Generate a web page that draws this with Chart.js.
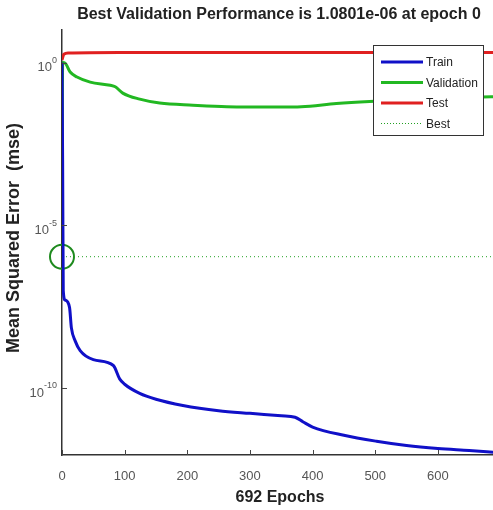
<!DOCTYPE html>
<html>
<head>
<meta charset="utf-8">
<script src="https://cdn.jsdelivr.net/npm/chart.js@4"></script>
<style>
  html, body { margin: 0; padding: 0; background: #fff; }
  #wrap { width: 493px; height: 510px; }
</style>
</head>
<body>
<div id="wrap"><canvas id="perfChart" width="493" height="510"></canvas></div>
<script>
// values (log scale, mse)
const trainEpochs = [0, 1, 2, 5, 12, 15, 21, 29, 50, 82, 92, 100, 124, 150, 193, 250, 300, 350, 372, 385, 400, 450, 502, 550, 600, 650, 692];
const trainMse = [1, 1e-3, 1e-7, 5e-8, 3e-8, 7e-9, 2.8e-9, 1.4e-9, 7.4e-10, 4.9e-10, 1.9e-10, 1.3e-10, 6.8e-11, 4.5e-11, 2.9e-11, 2e-11, 1.66e-11, 1.4e-11, 1.26e-11, 9e-12, 6.3e-12, 3.5e-12, 2.3e-12, 1.7e-12, 1.38e-12, 1.2e-12, 1.05e-12];

const valEpochs = [0, 1, 5, 13, 24, 45, 77, 85, 97, 124, 156, 209, 263, 347, 382, 438, 491, 560, 620, 671, 692];
const valMse = [1.0801e-6, 1.0, 0.96, 0.51, 0.36, 0.25, 0.2, 0.18, 0.115, 0.075, 0.057, 0.049, 0.044, 0.043, 0.044, 0.055, 0.064, 0.074, 0.081, 0.087, 0.09];

const testEpochs = [0, 3, 10, 100, 692];
const testMse = [1.2, 1.8, 1.95, 2.02, 2.05];

const bestEpoch = 0;
const bestVal = 1.0801e-6;
const lastEpoch = 692;
const xShown = 688; // figure is cut just before the last epoch

const xTicks = [0, 100, 200, 300, 400, 500, 600];
const yTicks = [1e-10, 1e-5, 1];
const yTickExp = ['-10', '-5', '0'];

const legendNames = ['Train', 'Validation', 'Test', 'Best'];
const FONT = '"Liberation Sans", Arial, sans-serif';

function pts(xs, ys) {
    return xs.map(function(x, i) { return {x: x, y: ys[i]}; });
}

// title, labels, inward tick marks and boxed legend like the matlab figure
const figureBits = {
    id: 'figureBits',
    afterDraw: function(chart) {
        const ctx = chart.ctx;
        const area = chart.chartArea;
        const xs = chart.scales.x;
        const ys = chart.scales.y;
        ctx.save();
        // title
        ctx.fillStyle = '#222';
        ctx.font = 'bold 16px ' + FONT;
        ctx.textAlign = 'center';
        ctx.textBaseline = 'middle';
        ctx.fillText('Best Validation Performance is 1.0801e-06 at epoch 0', 279, 15);
        // x label
        ctx.fillText(lastEpoch + ' Epochs', 280, 498);
        // y label
        ctx.save();
        ctx.translate(14, 238);
        ctx.rotate(-Math.PI / 2);
        ctx.font = 'bold 18px ' + FONT;
        ctx.fillText('Mean Squared Error  (mse)', 0, 0);
        ctx.restore();
        // y tick labels 10^n
        ctx.fillStyle = '#555';
        yTicks.forEach(function(t, i) {
            const py = ys.getPixelForValue(t);
            ctx.font = '9px ' + FONT;
            ctx.textAlign = 'right';
            ctx.fillText(yTickExp[i], 57, py - 2);
            const ew = ctx.measureText(yTickExp[i]).width;
            ctx.font = '13px ' + FONT;
            ctx.fillText('10', 57 - ew, py + 5);
        });
        // tick marks pointing in
        ctx.strokeStyle = '#444';
        ctx.lineWidth = 1;
        xTicks.forEach(function(t) {
            const px = Math.round(xs.getPixelForValue(t)) + 0.5;
            ctx.beginPath();
            ctx.moveTo(px, area.bottom);
            ctx.lineTo(px, area.bottom - 5);
            ctx.stroke();
        });
        yTicks.forEach(function(t) {
            const py = Math.round(ys.getPixelForValue(t)) + 0.5;
            ctx.beginPath();
            ctx.moveTo(area.left, py);
            ctx.lineTo(area.left + 5, py);
            ctx.stroke();
        });
        // legend box
        const bx = 373, by = 45, bw = 110, bh = 90;
        ctx.fillStyle = '#fff';
        ctx.fillRect(bx, by, bw, bh);
        ctx.strokeStyle = '#333';
        ctx.strokeRect(bx + 0.5, by + 0.5, bw, bh);
        ctx.font = '12px ' + FONT;
        ctx.textAlign = 'left';
        const ds = chart.data.datasets;
        for (let i = 0; i < 4; i++) {
            const ly = by + 17 + i * 20.5;
            ctx.strokeStyle = ds[i].borderColor;
            ctx.lineWidth = i < 3 ? 3 : 1;
            ctx.setLineDash(i < 3 ? [] : [1, 2]);
            ctx.beginPath();
            ctx.moveTo(381, ly);
            ctx.lineTo(423, ly);
            ctx.stroke();
            ctx.setLineDash([]);
            ctx.fillStyle = '#222';
            ctx.fillText(legendNames[i], 426, ly + 1);
        }
        ctx.restore();
    }
};

const ctx = document.getElementById('perfChart').getContext('2d');
const chart = new Chart(ctx, {
    type: 'line',
    data: {
        datasets: [{
            label: 'Train',
            data: pts(trainEpochs, trainMse),
            borderColor: '#1010c8',
            borderWidth: 3,
            pointRadius: 0,
            cubicInterpolationMode: 'monotone'
        }, {
            label: 'Validation',
            data: pts(valEpochs, valMse),
            borderColor: '#22b822',
            borderWidth: 3,
            pointRadius: 0,
            cubicInterpolationMode: 'monotone'
        }, {
            label: 'Test',
            data: pts(testEpochs, testMse),
            borderColor: '#e02020',
            borderWidth: 3,
            pointRadius: 0,
            cubicInterpolationMode: 'monotone'
        }, {
            label: 'Best',
            data: pts([bestEpoch, lastEpoch], [bestVal, bestVal]),
            borderColor: '#22a022',
            borderWidth: 1,
            borderDash: [1, 3],
            pointRadius: 0
        }, {
            label: 'BestMarker',
            data: pts([bestEpoch], [bestVal]),
            borderColor: '#1e8a1e',
            backgroundColor: 'rgba(0,0,0,0)',
            showLine: false,
            pointRadius: 12,
            pointBorderWidth: 2,
            clip: false
        }]
    },
    options: {
        responsive: false,
        animation: false,
        layout: { autoPadding: false, padding: { top: 30, right: 0, left: 0, bottom: 0 } },
        plugins: {
            legend: { display: false },
            title: { display: false },
            tooltip: { enabled: false }
        },
        scales: {
            x: {
                type: 'linear',
                min: 0,
                max: xShown,
                afterBuildTicks: function(scale) {
                    scale.ticks = xTicks.map(function(v) { return {value: v}; });
                },
                afterFit: function(scale) { scale.height = 55; },
                grid: { display: false },
                border: { display: true, color: '#333', width: 1.5 },
                ticks: {
                    color: '#555',
                    padding: 6,
                    font: { family: FONT, size: 13 }
                }
            },
            y: {
                type: 'logarithmic',
                min: 8.7e-13,
                max: 10,
                afterBuildTicks: function(scale) {
                    scale.ticks = yTicks.map(function(v) { return {value: v}; });
                },
                afterFit: function(scale) { scale.width = 62; },
                grid: { display: false },
                border: { display: true, color: '#333', width: 1.5 },
                ticks: {
                    callback: function() { return ''; }
                }
            }
        }
    },
    plugins: [figureBits]
});
</script>
</body>
</html>
